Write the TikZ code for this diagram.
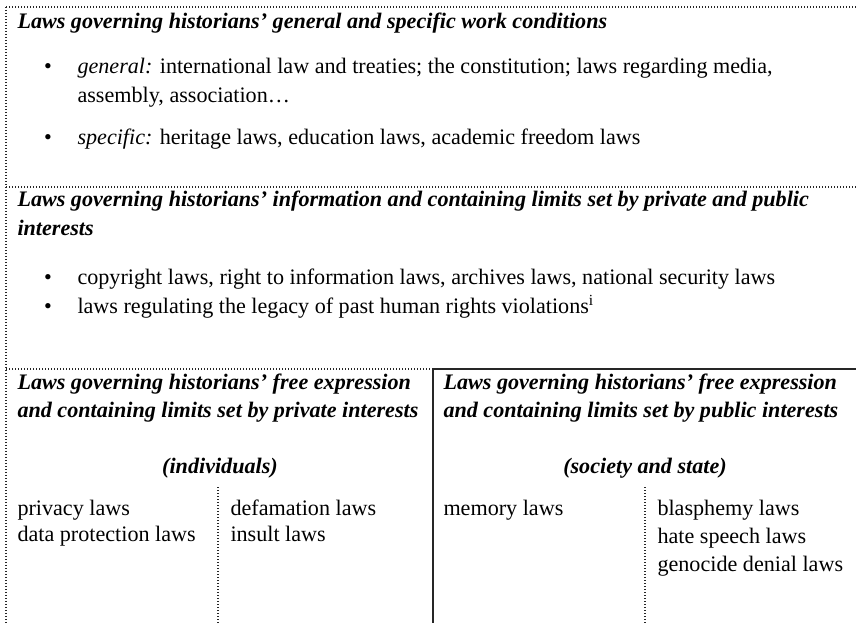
\documentclass[tikz,border=0pt]{standalone}
\usepackage{fontspec}
\setmainfont{Liberation Serif}
\tikzset{every picture/.style={line width=0.75pt}}

\begin{document}
\begin{tikzpicture}[x=0.75pt,y=0.75pt,yscale=-1,xscale=1,
	head/.style={anchor=base west,inner sep=0pt,font=\fontsize{16.6}{21.75}\selectfont\bfseries\itshape},
	body/.style={anchor=base west,inner sep=0pt,font=\fontsize{16.6}{21.75}\selectfont},
	bul/.style={anchor=base,inner sep=0pt,font=\fontsize{16.6}{21.75}\selectfont},
	dotline/.style={line width=1.1pt,dash pattern={on 1.1pt off 1.15pt},black!85},
	solidline/.style={line width=1.4pt,black!85}]
	\useasboundingbox (0,0) rectangle (856,623);

	%Frame coordinates
	\coordinate (tl) at (6,7);
	\coordinate (tr) at (856,7);
	\coordinate (bl) at (6,623);
	\coordinate (ml) at (6,187);
	\coordinate (mr) at (856,187);
	\coordinate (ll) at (6,369);
	\coordinate (lc) at (433,369);
	\coordinate (lr) at (856,369);
	\coordinate (cb) at (433,623);
	\coordinate (sa) at (218,487);
	\coordinate (sab) at (218,623);
	\coordinate (sb) at (645,487);
	\coordinate (sbb) at (645,623);

	%Dotted rules
	\draw [dotline] (tl) -- (tr);
	\draw [dotline] (tl) -- (bl);
	\draw [dotline] (ml) -- (mr);
	\draw [dotline] (ll) -- (lc);
	\draw [dotline] (sa) -- (sab);
	\draw [dotline] (sb) -- (sbb);
	%Solid rules
	\draw [solidline] (lc) -- (lr);
	\draw [solidline] (lc) -- (cb);

	% Text Node
	\node [head] (hgen) at (17,29) {Laws governing historians’ general and specific work conditions};
	\node [bul] (b1) at (48,74) {•};
	\node [body] (t1a) at (77,74) {\textit{general:} international law and treaties; the constitution; laws regarding media,};
	\node [body] (t1b) at (77,103) {assembly, association…};
	\node [bul] (b2) at (48,145) {•};
	\node [body] (t2) at (77,145) {\textit{specific:} heritage laws, education laws, academic freedom laws};

	% Text Node
	\node [head] (hinfa) at (17,207) {Laws governing historians’ information and containing limits set by private and public};
	\node [head] (hinfb) at (17,236) {interests};
	\node [bul] (b3) at (48,285) {•};
	\node [body] (t3) at (77,285) {copyright laws, right to information laws, archives laws, national security laws};
	\node [bul] (b4) at (48,314) {•};
	\node [body] (t4) at (77,314) {laws regulating the legacy of past human rights violations\textsuperscript{i}};

	% Text Node
	\node [head] (hpriva) at (17,389) {Laws governing historians’ free expression};
	\node [head] (hprivb) at (17,417) {and containing limits set by private interests};
	\node [head,anchor=base] (hind) at (220,473) {(individuals)};
	\node [body] (privacy) at (17,515) {privacy laws};
	\node [body] (dataprot) at (17,541) {data protection laws};
	\node [body] (defam) at (230,515) {defamation laws};
	\node [body] (insult) at (230,541) {insult laws};

	% Text Node
	\node [head] (hpuba) at (443,389) {Laws governing historians’ free expression};
	\node [head] (hpubb) at (443,417) {and containing limits set by public interests};
	\node [head,anchor=base] (hsoc) at (645,473) {(society and state)};
	\node [body] (memory) at (443,515) {memory laws};
	\node [body] (blasph) at (657,515) {blasphemy laws};
	\node [body] (hate) at (657,543) {hate speech laws};
	\node [body] (genoc) at (657,571) {genocide denial laws};
\end{tikzpicture}
\end{document}
